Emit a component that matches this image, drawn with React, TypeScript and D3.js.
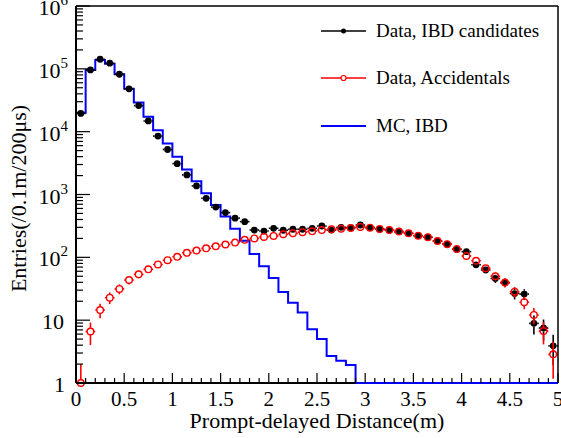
import React from "react";
import * as d3 from "d3";

const binEdges = d3.range(0, 51).map((i) => i / 10);
const binCenters = d3.range(0, 50).map((i) => i / 10 + 0.05);

const ibdCandidates = [
  19500, 96000, 142000, 123000, 82000, 48000, 26000, 14800, 8500, 5200,
  3100, 2050, 1370, 870, 630, 515, 420, 370, 272, 262,
  290, 270, 280, 280, 290, 315, 272, 300, 297, 327,
  297, 281, 272, 257, 241, 221, 209, 182, 162, 134,
  123, 76, 63, 46, 39.6, 26.5, 26, 8.9, 7.5, 3.9,
];

const accidentals = [
  1, 6.6, 14.5, 22.8, 31.4, 43.6, 53.7, 64.5, 77, 90,
  102, 118, 128, 139, 150, 160, 172, 190, 200, 211,
  219, 233, 241, 251, 260, 272, 279, 285, 293, 305,
  297, 283, 272, 257, 241, 221, 209, 182, 162, 136,
  105, 88, 67, 50, 39.6, 28.4, 19.3, 12.1, 6.7, 2.86,
];

const mcIbd = [
  20000, 96000, 138000, 120000, 82000, 48000, 29000, 17300, 10500, 6500,
  4000, 2500, 1620, 1050, 680, 445, 284, 184, 113, 72,
  47, 28, 19, 13.2, 7.2, 5.0, 2.7, 2.26, 1.93, 0,
  0, 0, 0, 0, 0, 0, 0, 0, 0, 0,
  0, 0, 0, 0, 0, 0, 0, 0, 0, 0,
];

const xTickLabels = ["0", "0.5", "1", "1.5", "2", "2.5", "3", "3.5", "4", "4.5", "5"];
const yDecades = [0, 1, 2, 3, 4, 5, 6];
const legendLabels = ["Data, IBD candidates", "Data, Accidentals", "MC, IBD"];

const FONT = "Liberation Serif, Times New Roman, Times, serif";

export default function App() {
  const W = 561;
  const H = 438;
  const left = 76;
  const right = 558;
  const top = 6;
  const bottom = 383;

  const x = d3.scaleLinear().domain([0, 5]).range([left, right]);
  const y = d3.scaleLog().domain([1, 1e6]).range([bottom, top]).clamp(true);
  const yv = (v: number) => (v <= 1 ? bottom : y(v));

  let stepD = `M${x(binEdges[0])},${bottom}`;
  mcIbd.forEach((v, i) => {
    const yy = yv(v);
    stepD += `L${x(binEdges[i])},${yy}L${x(binEdges[i + 1])},${yy}`;
  });

  const xMinor = d3.range(0, 51).map((i) => i / 10);
  const yMinor: number[] = [];
  for (let d = 0; d < 6; d++) for (let k = 2; k <= 9; k++) yMinor.push(k * Math.pow(10, d));

  const renderPoints = (vals: number[], color: string, filled: boolean, r: number) =>
    vals.map((v, i) => {
      if (v <= 0) return null;
      const cx = x(binCenters[i]);
      const cy = yv(v);
      const err = Math.sqrt(v);
      const yHi = y(v + err);
      const yLo = v - err <= 1 ? bottom : y(v - err);
      const hx0 = x(binEdges[i]);
      const hx1 = x(binEdges[i + 1]);
      return (
        <g key={i}>
          {cy - r > yHi && <line x1={cx} x2={cx} y1={cy - r} y2={yHi} stroke={color} strokeWidth={1.6} />}
          {yLo > cy + r && <line x1={cx} x2={cx} y1={cy + r} y2={yLo} stroke={color} strokeWidth={1.6} />}
          <line x1={hx0} x2={cx - r} y1={cy} y2={cy} stroke={color} strokeWidth={1.6} />
          <line x1={cx + r} x2={hx1} y1={cy} y2={cy} stroke={color} strokeWidth={1.6} />
          <circle cx={cx} cy={cy} r={r} fill={filled ? color : "none"} stroke={color} strokeWidth={filled ? 0 : 1.4} />
        </g>
      );
    });

  const legendRows = [31, 78, 126];
  const ts = { fontFamily: FONT };

  return (
    <svg width={W} height={H} style={{ position: "absolute", left: 0, top: 0, background: "#fff", fontFamily: FONT }}>
      <rect x={0} y={0} width={W} height={H} fill="#fff" />
      <path d={stepD} fill="none" stroke="#0000ff" strokeWidth={2} />
      <g>{renderPoints(ibdCandidates, "#000000", true, 3.4)}</g>
      <g>{renderPoints(accidentals, "#ff0000", false, 3.3)}</g>

      <line x1={left} x2={right} y1={top} y2={top} stroke="#000" strokeWidth={1.5} />
      <line x1={right} x2={right} y1={top} y2={bottom} stroke="#000" strokeWidth={1.5} />
      <line x1={left} x2={left} y1={top} y2={bottom} stroke="#000" strokeWidth={2} />
      <line x1={left} x2={x(2.9)} y1={bottom} y2={bottom} stroke="#000" strokeWidth={2} />
      <line x1={x(2.9)} x2={right} y1={bottom} y2={bottom} stroke="#0000ff" strokeWidth={2} />

      {xMinor.map((t, i) => {
        const major = i % 5 === 0;
        return (
          <line key={"xt" + i} x1={x(t)} x2={x(t)} y1={bottom} y2={bottom - (major ? 10 : 5)} stroke="#000" strokeWidth={1.2} />
        );
      })}
      {xTickLabels.map((lab, i) => (
        <text key={"xl" + i} x={x(i * 0.5)} y={406} fontSize={21} textAnchor="middle" style={ts}>
          {lab}
        </text>
      ))}

      {yDecades.map((d) => (
        <line key={"yM" + d} x1={left} x2={left + 14} y1={y(Math.pow(10, d))} y2={y(Math.pow(10, d))} stroke="#000" strokeWidth={1.2} />
      ))}
      {yMinor.map((v, i) => (
        <line key={"ym" + i} x1={left} x2={left + 7} y1={y(v)} y2={y(v)} stroke="#000" strokeWidth={1.2} />
      ))}
      {yDecades.map((d) => {
        const yy = y(Math.pow(10, d)) + 9;
        if (d === 0)
          return (
            <text key={"yl" + d} x={65} y={yy} fontSize={22} textAnchor="end" style={ts}>1</text>
          );
        if (d === 1)
          return (
            <text key={"yl" + d} x={64} y={yy} fontSize={22} textAnchor="end" style={ts}>10</text>
          );
        return (
          <text key={"yl" + d} x={68} y={yy} fontSize={22} textAnchor="end" style={ts}>
            10<tspan fontSize={15} dy={-10}>{String(d)}</tspan>
          </text>
        );
      })}

      <text x={(left + right) / 2} y={428} fontSize={22} textAnchor="middle" style={ts}>
        Prompt-delayed Distance(m)
      </text>
      <text transform={`translate(26,${(top + bottom) / 2 + 4}) rotate(-90)`} fontSize={22} textAnchor="middle" style={ts}>
        Entries(/0.1m/200μs)
      </text>

      {legendRows.map((ry, i) => {
        const color = i === 0 ? "#000" : i === 1 ? "#ff0000" : "#0000ff";
        return (
          <g key={"lg" + i}>
            <line x1={321} x2={366} y1={ry} y2={ry} stroke={color} strokeWidth={i === 2 ? 2 : 1.5} />
            {i === 0 && <circle cx={343.5} cy={ry} r={2.5} fill="#000" />}
            {i === 1 && <circle cx={343.5} cy={ry} r={2.5} fill="#fff" stroke="#ff0000" strokeWidth={1.2} />}
            <text x={376} y={ry + 6} fontSize={19} style={ts}>
              {legendLabels[i]}
            </text>
          </g>
        );
      })}
    </svg>
  );
}
